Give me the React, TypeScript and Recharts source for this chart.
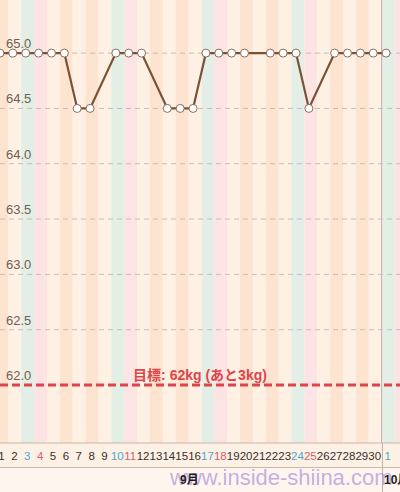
import React from "react";
import {
  LineChart,
  Line,
  XAxis,
  YAxis,
  ReferenceArea,
  ReferenceLine,
} from "recharts";

// September 2016 (+ Oct 1), one entry per day
const DAYS = [
  1, 2, 3, 4, 5, 6, 7, 8, 9, 10, 11, 12, 13, 14, 15, 16, 17, 18, 19, 20, 21,
  22, 23, 24, 25, 26, 27, 28, 29, 30, 31,
];
const DAY_LABELS = [
  "1", "2", "3", "4", "5", "6", "7", "8", "9", "10", "11", "12", "13", "14",
  "15", "16", "17", "18", "19", "20", "21", "22", "23", "24", "25", "26", "27",
  "28", "29", "30", "1",
];
// weekday of each day (the last one is Oct 2, only used for the stripe)
const WEEKDAYS = [
  "木", "金", "土", "日", "月", "火", "水", "木", "金", "土", "日", "月", "火",
  "水", "木", "金", "土", "日", "月", "火", "水", "木", "金", "土", "日", "月",
  "火", "水", "木", "金", "土", "日",
];
const WEIGHT = [
  65.0, 65.0, 65.0, 65.0, 65.0, 65.0, 64.5, 64.5, null, 65.0, 65.0, 65.0, null,
  64.5, 64.5, 64.5, 65.0, 65.0, 65.0, 65.0, null, 65.0, 65.0, 65.0, 64.5, null,
  65.0, 65.0, 65.0, 65.0, 65.0,
];
const Y_TICKS = [62.0, 62.5, 63.0, 63.5, 64.0, 64.5, 65.0];
const GOAL = 62.0;
const GOAL_LABEL = "目標: 62kg (あと3kg)";
const MONTHS = ["9月", "10月"];
const WATERMARK = "www.inside-shiina.com";

const FONT =
  "'Liberation Sans', Arial, Helvetica, 'Noto Sans CJK JP', sans-serif";

const stripeFill = (wd: string) => {
  if (wd === "土") return "#e3eee6";
  if (wd === "日") return "#fde4e4";
  if (wd === "火" || wd === "木") return "#fde4d0";
  return "#fef0e3";
};

const labelColor = (wd: string) => {
  if (wd === "土") return "#4ea6cb";
  if (wd === "日") return "#d2606b";
  return "#3a2e28";
};

const XTick = (props: any) => {
  const { x, y, payload } = props;
  const i = payload.value - 1;
  return (
    <text
      x={x + 1.5}
      y={y}
      dy="0.75em"
      textAnchor="middle"
      fill={labelColor(WEEKDAYS[i])}
      fontSize={11.5}
      fontFamily={FONT}
    >
      {DAY_LABELS[i]}
    </text>
  );
};

// value label sitting just above each grid line, at the left edge
const gridLabel = (v: number) => (props: any) => {
  const vb = props.viewBox || {};
  return (
    <text
      x={(vb.x || 0) + 6}
      y={(vb.y || 0) - 5}
      fill="#6f5e52"
      fontSize={13}
      fontFamily={FONT}
    >
      {v.toFixed(1)}
    </text>
  );
};

export default function App() {
  const data = DAYS.map((day, i) => ({ day, weight: WEIGHT[i] }));

  return (
    <div
      style={{
        position: "absolute",
        left: 0,
        top: 0,
        width: 400,
        height: 492,
        overflow: "hidden",
        background: "#fef6ee",
        fontFamily: FONT,
      }}
    >
      {/* date band under the plot */}
      <div
        style={{
          position: "absolute",
          left: 0,
          top: 443,
          width: 400,
          height: 25,
          background: "#fdf1e6",
          borderBottom: "1px solid #cbb8a8",
          boxSizing: "border-box",
        }}
      />
      <div
        style={{
          position: "absolute",
          left: 382,
          top: 443,
          width: 1,
          height: 49,
          background: "#c4b0a0",
        }}
      />

      <div style={{ position: "absolute", left: 0, top: 0 }}>
        <LineChart
          width={400}
          height={492}
          data={data}
          margin={{ top: 0, right: 0, bottom: 25, left: 0 }}
        >
          {WEEKDAYS.map((wd, i) => (
            <ReferenceArea
              key={`stripe-${i}`}
              x1={i + 1 - 0.35}
              x2={i + 1 + 0.65}
              fill={stripeFill(wd)}
              fillOpacity={1}
              stroke="none"
              ifOverflow="visible"
            />
          ))}
          <ReferenceLine
            x={30.65}
            stroke="#c4b0a0"
            strokeWidth={1}
            ifOverflow="visible"
          />
          {Y_TICKS.map((v) => (
            <ReferenceLine
              key={`grid-${v}`}
              y={v}
              stroke={v === GOAL ? "none" : "#c8beb5"}
              strokeWidth={1}
              strokeDasharray="5 4"
              label={{ content: gridLabel(v) }}
            />
          ))}
          <ReferenceLine
            y={GOAL}
            stroke="#e0444b"
            strokeWidth={3}
            strokeDasharray="8 4"
            label={{
              value: GOAL_LABEL,
              position: "top",
              offset: 5,
              fill: "#e0444b",
              fontSize: 14,
              fontWeight: 700,
              fontFamily: FONT,
            }}
          />
          <XAxis
            dataKey="day"
            type="number"
            domain={[1, 32.08]}
            ticks={DAYS}
            interval={0}
            allowDataOverflow
            height={24}
            tickLine={false}
            axisLine={{ stroke: "#c9b6a6" }}
            tick={<XTick />}
          />
          <YAxis
            type="number"
            domain={[61.476, 65.48]}
            ticks={Y_TICKS}
            allowDataOverflow
            width={0}
            axisLine={false}
            tickLine={false}
            tick={false}
          />
          <Line
            type="linear"
            dataKey="weight"
            connectNulls
            stroke="#7b5136"
            strokeWidth={2.2}
            dot={{ r: 4, fill: "#ffffff", stroke: "#8a6e5c", strokeWidth: 1 }}
            activeDot={false}
            isAnimationActive={false}
          />
        </LineChart>
      </div>

      {/* watermark and month labels */}
      <div
        style={{
          position: "absolute",
          left: 170,
          top: 466,
          fontSize: 22,
          color: "rgba(160, 125, 215, 0.6)",
          whiteSpace: "nowrap",
          lineHeight: "24px",
        }}
      >
        {WATERMARK}
      </div>
      <div
        style={{
          position: "absolute",
          left: 180,
          top: 473,
          fontSize: 12,
          fontWeight: 700,
          color: "#1e1e1e",
          lineHeight: "14px",
        }}
      >
        {MONTHS[0]}
      </div>
      <div
        style={{
          position: "absolute",
          left: 384,
          top: 473,
          fontSize: 12,
          fontWeight: 700,
          color: "#1e1e1e",
          lineHeight: "14px",
          whiteSpace: "nowrap",
        }}
      >
        {MONTHS[1]}
      </div>
    </div>
  );
}
